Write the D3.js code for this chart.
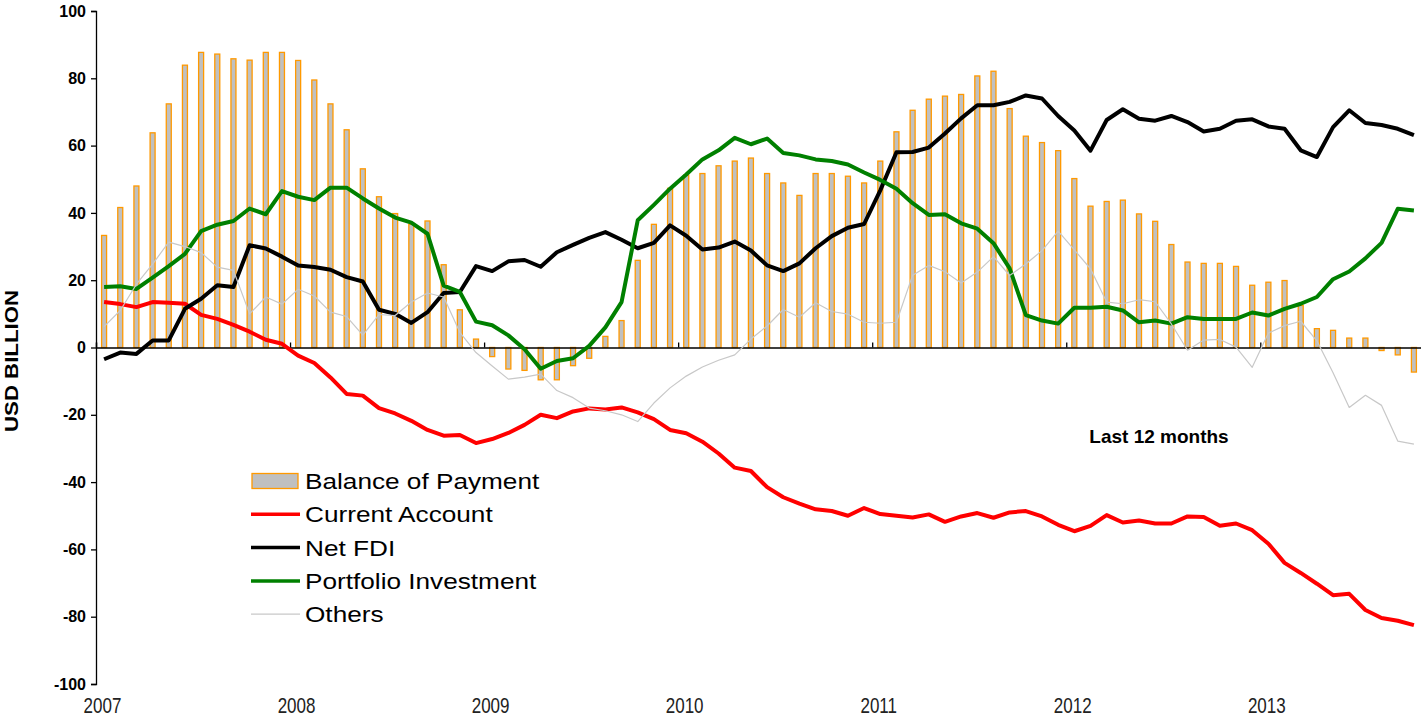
<!DOCTYPE html>
<html>
<head>
<meta charset="utf-8">
<script src="https://cdn.jsdelivr.net/npm/d3@7"></script>
<style>
  html, body { margin: 0; padding: 0; background: #fff; }
  svg { display: block; }
  text { font-family: "Liberation Sans", Arial, sans-serif; }
</style>
</head>
<body>
<svg id="chart" width="1421" height="725"></svg>
<script>
// ---------- DATA (USD billion, last 12 months, monthly Jan 2007 - Oct 2013) ----------
const startYear = 2007;
const monthCount = 82;
const yearLabels = ["2007", "2008", "2009", "2010", "2011", "2012", "2013"];
const yTicks = [-100, -80, -60, -40, -20, 0, 20, 40, 60, 80, 100];

const balanceOfPayment = [
  33.3, 41.6, 48.0, 63.8, 72.4, 83.9, 87.7, 87.2, 85.8, 85.4, 87.7, 87.7,
  85.3, 79.5, 72.4, 64.7, 53.1, 44.8, 39.8, 36.6, 37.6, 24.6, 11.2, 2.5,
  -2.7, -6.4, -6.8, -9.6, -9.6, -5.4, -3.2, 3.3, 8.0, 25.9, 36.6, 47.3,
  51.2, 51.7, 54.0, 55.4, 56.3, 51.7, 48.9, 45.2, 51.7, 51.7, 50.9, 48.9,
  55.4, 64.1, 70.5, 73.8, 74.7, 75.2, 80.7, 82.1, 71.0, 62.8, 60.9, 58.5,
  50.2, 42.0, 43.4, 43.8, 39.7, 37.5, 30.6, 25.4, 25.0, 25.0, 24.1, 18.5,
  19.4, 19.9, 12.5, 5.6, 5.1, 2.8, 2.8, -0.9, -2.2, -7.3
];
const currentAccount = [
  13.5, 12.9, 12.0, 13.5, 13.3, 13.0, 9.7, 8.5, 6.7, 4.7, 2.3, 1.1,
  -2.4, -4.6, -8.9, -13.8, -14.3, -18.0, -19.6, -21.8, -24.5, -26.2, -26.0, -28.4,
  -27.2, -25.4, -23.0, -20.0, -21.0, -19.0, -18.1, -18.4, -17.8, -19.3, -21.3, -24.5,
  -25.5, -28.0, -31.5, -35.7, -36.7, -41.5, -44.5, -46.4, -48.1, -48.6, -50.0, -47.7,
  -49.5, -50.0, -50.5, -49.6, -51.8, -50.2, -49.2, -50.6, -49.0, -48.6, -50.2, -52.7,
  -54.6, -53.0, -49.8, -52.0, -51.4, -52.3, -52.3, -50.2, -50.4, -53.0, -52.3, -54.3,
  -58.3, -64.0, -67.0, -70.2, -73.6, -73.2, -78.0, -80.4, -81.2, -82.5
];
const netFDI = [
  -3.5, -1.5, -1.9, 2.1, 2.1, 11.5, 14.5, 18.5, 18.0, 30.4, 29.4, 27.0,
  24.4, 23.9, 23.1, 20.9, 19.6, 11.2, 10.0, 7.3, 10.5, 16.2, 16.5, 24.2,
  22.7, 25.6, 26.0, 24.0, 28.3, 30.5, 32.6, 34.3, 32.0, 29.5, 31.1, 36.3,
  33.2, 29.1, 29.7, 31.5, 28.8, 24.4, 22.7, 25.0, 29.5, 33.1, 35.6, 36.7,
  46.7, 58.0, 58.1, 59.4, 63.6, 68.1, 72.0, 72.0, 73.0, 74.9, 74.0, 68.8,
  64.5, 58.5, 67.6, 70.8, 68.0, 67.4, 68.8, 67.0, 64.2, 65.0, 67.4, 67.8,
  65.7, 65.0, 58.6, 56.6, 65.5, 70.5, 66.7, 66.1, 65.0, 63.1
];
const portfolioInvestment = [
  18.0, 18.2, 17.4, 20.8, 24.2, 27.8, 34.6, 36.5, 37.6, 41.3, 39.6, 46.5,
  44.8, 43.8, 47.5, 47.5, 44.3, 41.3, 38.6, 37.1, 33.8, 18.4, 16.5, 7.7,
  6.6, 3.6, -0.5, -6.3, -4.0, -3.2, 0.5, 6.0, 13.5, 37.8, 42.4, 47.2,
  51.4, 55.9, 58.6, 62.3, 60.4, 62.1, 57.8, 57.1, 55.9, 55.4, 54.4, 52.0,
  49.8, 47.2, 42.9, 39.4, 39.6, 36.9, 35.3, 31.0, 23.5, 9.6, 8.0, 7.1,
  11.8, 11.8, 12.1, 11.0, 7.5, 8.0, 7.1, 9.0, 8.5, 8.5, 8.5, 10.4,
  9.5, 11.5, 13.0, 15.0, 20.3, 22.6, 26.5, 31.1, 41.2, 40.7
];
const others = [
  6.2, 11.0, 18.8, 24.8, 31.3, 30.0, 28.2, 23.9, 22.9, 10.0, 15.0, 12.9,
  17.3, 15.3, 10.5, 9.2, 3.7, 9.8, 9.5, 13.5, 16.2, 15.0, 4.5, -1.5,
  -5.5, -9.4, -8.8, -7.9, -12.8, -14.9, -18.0, -18.8, -20.0, -22.0, -16.5, -12.0,
  -8.5, -5.8, -3.8, -2.2, 2.5, 6.4, 11.3, 9.0, 13.3, 10.7, 9.9, 7.5,
  7.2, 7.5, 21.5, 24.4, 22.5, 19.2, 22.4, 27.0, 21.4, 24.8, 28.8, 34.6,
  29.0, 23.4, 13.5, 13.0, 14.2, 13.6, 7.0, -0.8, 2.2, 2.4, 0.1, -5.9,
  4.3, 6.5, 7.8, 2.0, -7.5, -17.8, -14.2, -17.2, -27.8, -28.7
];
const seriesNames = ["Balance of Payment", "Current Account", "Net FDI", "Portfolio Investment", "Others"];
const annotation = "Last 12 months";
const yTitle = "USD BILLION";

// ---------- LAYOUT ----------
const svg = d3.select("#chart");
const plotLeft = 96, plotRight = 1422, plotTop = 11, plotBottom = 684;

const monthIdx = d3.range(monthCount);
const xBand = d3.scaleBand().domain(monthIdx).range([plotLeft, plotRight]).paddingInner(0).paddingOuter(0);
const xYear = d3.scaleLinear().domain([startYear, startYear + monthCount / 12]).range([plotLeft, plotRight]);
const y = d3.scaleLinear().domain([-100, 100]).range([plotBottom, plotTop]);
const cx = i => xBand(i) + xBand.bandwidth() / 2;
const yearTicks = d3.range(startYear, startYear + yearLabels.length);

// Bars
const barW = 5;
svg.append("g").selectAll("rect").data(balanceOfPayment).join("rect")
  .attr("x", (d, i) => cx(i) - barW / 2)
  .attr("y", d => y(Math.max(0, d)))
  .attr("width", barW)
  .attr("height", d => Math.abs(y(d) - y(0)))
  .attr("fill", "#C0C0C0")
  .attr("stroke", "#FF9900")
  .attr("stroke-width", 1.3);

// Zero axis with year ticks pointing up
const zeroAxis = svg.append("g").attr("transform", `translate(0,${y(0)})`)
  .call(d3.axisTop(xYear).tickValues(yearTicks).tickSize(5).tickFormat(""));
zeroAxis.select(".domain").attr("stroke", "#000").attr("stroke-width", 1.3);
zeroAxis.selectAll(".tick line").attr("stroke", "#000").attr("stroke-width", 1.3);

// Year labels at bottom
const yearAxis = svg.append("g").attr("transform", `translate(0,${plotBottom + 7})`)
  .call(d3.axisBottom(xYear).tickValues(yearTicks)
    .tickSize(0).tickPadding(6).tickFormat((d, i) => yearLabels[i]));
yearAxis.select(".domain").remove();
yearAxis.selectAll("text")
  .attr("fill", "#222")
  .attr("transform", "translate(6,0) scale(0.85,1.08)")
  .style("font-family", "'Liberation Sans', Arial, sans-serif")
  .style("font-size", "20px");

// Lines
const line = d3.line().x((d, i) => cx(i)).y(d => y(d));
const lineSpecs = [
  { data: currentAccount, color: "#FF0000", w: 4 },
  { data: netFDI, color: "#000000", w: 4 },
  { data: portfolioInvestment, color: "#008000", w: 4 },
  { data: others, color: "#C8C8C8", w: 1.2 }
];
svg.append("g").selectAll("path").data(lineSpecs).join("path")
  .attr("d", s => line(s.data))
  .attr("fill", "none")
  .attr("stroke", s => s.color)
  .attr("stroke-width", s => s.w)
  .attr("stroke-linejoin", "round");

// Y axis
const yAxis = svg.append("g").attr("transform", `translate(${plotLeft},0)`)
  .call(d3.axisLeft(y).tickValues(yTicks).tickSize(5).tickPadding(5).tickFormat(d => String(d)));
yAxis.select(".domain").attr("stroke", "#000").attr("stroke-width", 1.3);
yAxis.selectAll(".tick line").attr("stroke", "#000").attr("stroke-width", 1.3);
yAxis.selectAll("text").attr("fill", "#000")
  .style("font-size", "16px").style("font-weight", "bold")
  .style("font-family", "'Liberation Sans', Arial, sans-serif");

// Y title
svg.append("text")
  .attr("transform", "translate(18,361) rotate(-90)")
  .attr("text-anchor", "middle")
  .attr("textLength", 142)
  .attr("lengthAdjust", "spacingAndGlyphs")
  .style("font-size", "18px").style("font-weight", "bold")
  .text(yTitle);

// Annotation
svg.append("text")
  .attr("x", 1159).attr("y", 443)
  .attr("text-anchor", "middle")
  .style("font-size", "19px").style("font-weight", "bold")
  .text(annotation);

// Legend
const legend = svg.append("g").attr("transform", "translate(251,481)");
const rowH = 33.3;
const legItems = legend.selectAll("g").data(seriesNames).join("g")
  .attr("transform", (d, i) => `translate(0,${i * rowH})`);
legItems.each(function (d, i) {
  const g = d3.select(this);
  if (i === 0) {
    g.append("rect").attr("x", 1).attr("y", -7.5).attr("width", 46).attr("height", 15)
      .attr("fill", "#C0C0C0").attr("stroke", "#FF9900").attr("stroke-width", 1.3);
  } else {
    const s = lineSpecs[i - 1];
    g.append("line").attr("x1", 0).attr("x2", 49).attr("y1", 0).attr("y2", 0)
      .attr("stroke", s.color).attr("stroke-width", s.w === 4 ? 3.5 : 1.2);
  }
  g.append("text").attr("transform", "translate(54,8) scale(1.19,1)")
    .style("font-size", "22px")
    .attr("fill", "#000")
    .text(d);
});
</script>
</body>
</html>
